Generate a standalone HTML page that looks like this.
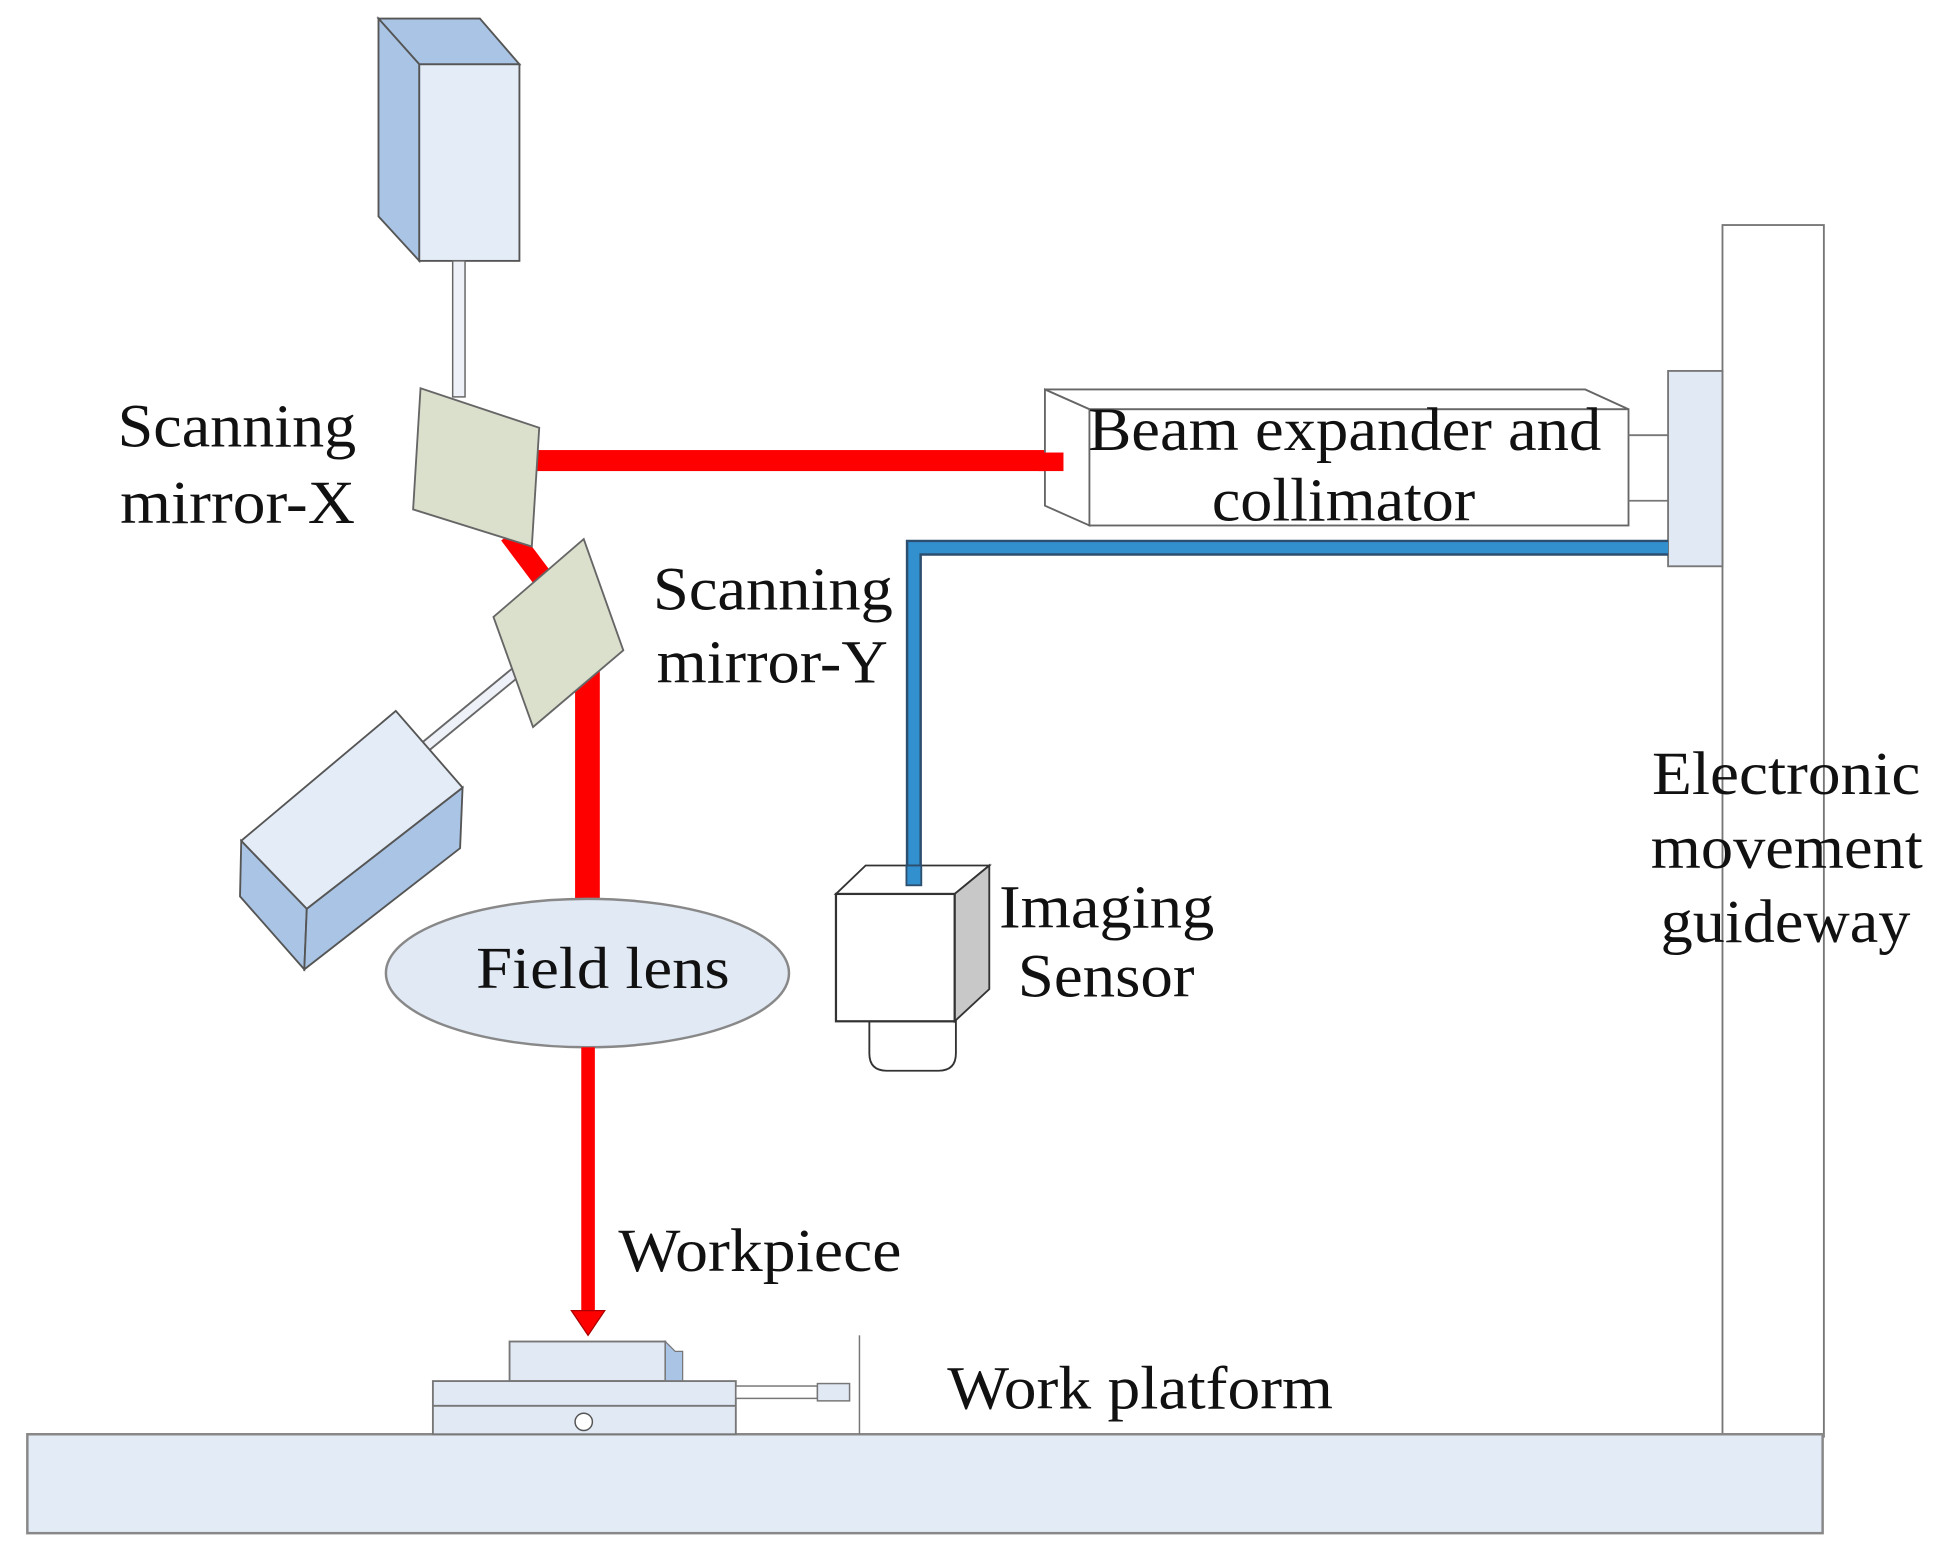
<!DOCTYPE html>
<html><head><meta charset="utf-8"><style>html,body{margin:0;padding:0;background:#fff}svg{display:block}</style></head>
<body>
<svg width="1939" height="1548" viewBox="0 0 1568 1252" xmlns="http://www.w3.org/2000/svg" font-family="'Liberation Serif', serif" fill="#111">
<!-- guideway column -->
<rect x="1393" y="182" width="82" height="980" fill="#fff" stroke="#777" stroke-width="1.5"/>
<!-- ground -->
<rect x="22" y="1160" width="1452" height="80" fill="#e3ebf6" stroke="#888" stroke-width="2"/>
<!-- top laser box -->
<polygon points="306,15 388,15 420,52 339,52" fill="#a9c4e4" stroke="#555" stroke-width="1.5"/>
<polygon points="306,15 339,52 339,211 306,175" fill="#a9c4e4" stroke="#555" stroke-width="1.5"/>
<rect x="339" y="52" width="81" height="159" fill="#e4ecf7" stroke="#555" stroke-width="1.5"/>
<rect x="366" y="211" width="10" height="110" fill="#eef2f8" stroke="#666" stroke-width="1.2"/>
<!-- red beams -->
<rect x="430" y="364" width="430" height="17" fill="#ff0000"/>
<line x1="412" y1="432" x2="442" y2="472" stroke="#ff0000" stroke-width="17"/>
<rect x="465" y="535" width="20" height="195" fill="#ff0000"/>
<!-- mirror X -->
<polygon points="340,314 436,346 430,442 334,412" fill="#dbe0cd" stroke="#666" stroke-width="1.5"/>
<!-- lower motor shaft -->
<line x1="345" y1="603" x2="418" y2="543" stroke="#666" stroke-width="10"/>
<line x1="345" y1="603" x2="418" y2="543" stroke="#eef2f8" stroke-width="7"/>
<!-- mirror Y -->
<polygon points="399,499 472,436 504,526 431,588" fill="#dbe0cd" stroke="#666" stroke-width="1.5"/>
<!-- lower motor -->
<polygon points="195,680 248,735 246,784 194,725" fill="#a9c4e4" stroke="#555" stroke-width="1.5"/>
<polygon points="248,735 374,637 372,686 246,784" fill="#a9c4e4" stroke="#555" stroke-width="1.5"/>
<polygon points="195,680 320,575 374,637 248,735" fill="#e4ecf7" stroke="#555" stroke-width="1.5"/>
<!-- field lens -->
<ellipse cx="475" cy="787" rx="163" ry="60" fill="#e1e9f5" stroke="#888" stroke-width="2"/>
<text x="385" y="799" font-size="48" textLength="205" lengthAdjust="spacingAndGlyphs">Field lens</text>
<!-- red beam down with arrow -->
<rect x="470" y="847" width="11" height="215" fill="#ff0000"/>
<polygon points="462,1060 489,1060 475.5,1080" fill="#ff0000" stroke="#a00" stroke-width="1"/>
<!-- beam expander box -->
<polygon points="845,315 1282,315 1317,331 881,331" fill="#fff" stroke="#666" stroke-width="1.5"/>
<polygon points="845,315 881,331 881,425 845,409" fill="#fff" stroke="#666" stroke-width="1.5"/>
<rect x="881" y="331" width="436" height="94" fill="#fff" stroke="#666" stroke-width="1.5"/>
<rect x="840" y="366" width="20" height="15" fill="#ff0000"/>
<line x1="1317" y1="352" x2="1349" y2="352" stroke="#777" stroke-width="1.5"/>
<line x1="1317" y1="405" x2="1349" y2="405" stroke="#777" stroke-width="1.5"/>
<text x="880" y="364" font-size="50" textLength="415" lengthAdjust="spacingAndGlyphs">Beam expander and</text>
<text x="980" y="421" font-size="50" textLength="213" lengthAdjust="spacingAndGlyphs">collimator</text>
<!-- carriage -->
<rect x="1349" y="300" width="44" height="158" fill="#e1e9f5" stroke="#777" stroke-width="1.5"/>
<!-- blue cable -->
<path d="M1349,443 L739,443 L739,716" fill="none" stroke="#2c4f70" stroke-width="13"/>
<path d="M1349,443 L739,443 L739,716" fill="none" stroke="#3390cf" stroke-width="9"/>
<!-- imaging sensor -->
<path d="M703,826 L703,852 Q703,866 717,866 L759,866 Q773,866 773,852 L773,826 Z" fill="#fff" stroke="#333" stroke-width="1.5"/>
<polygon points="676,723 700,700 800,700 772,723" fill="#fff" stroke="#333" stroke-width="1.5"/>
<polygon points="772,723 800,700 800,800 772,826" fill="#c8c8c8" stroke="#333" stroke-width="1.5"/>
<rect x="676" y="723" width="96" height="103" fill="#fff" stroke="#333" stroke-width="1.8"/>
<rect x="733" y="700" width="12" height="16" fill="#3390cf" stroke="#2c4f70" stroke-width="1.5"/>
<!-- work platform -->
<rect x="412" y="1085" width="126" height="32" fill="#e1e9f5" stroke="#777" stroke-width="1.5"/>
<polygon points="538,1085 546,1093 552,1093 552,1117 538,1117" fill="#a9c4e4" stroke="#777" stroke-width="1"/>
<rect x="350" y="1117" width="245" height="43" fill="#e1e9f5" stroke="#777" stroke-width="1.5"/>
<line x1="350" y1="1137" x2="595" y2="1137" stroke="#777" stroke-width="1.5"/>
<circle cx="472" cy="1150" r="7" fill="#fff" stroke="#555" stroke-width="1.2"/>
<rect x="595" y="1121" width="66" height="10" fill="#fff" stroke="#777" stroke-width="1.2"/>
<rect x="661" y="1119" width="26" height="14" fill="#e1e9f5" stroke="#777" stroke-width="1.2"/>
<line x1="695" y1="1080" x2="695" y2="1160" stroke="#777" stroke-width="1.2"/>
<!-- labels -->
<text x="95" y="361" font-size="50" textLength="193" lengthAdjust="spacingAndGlyphs">Scanning</text>
<text x="97" y="423" font-size="50" textLength="190" lengthAdjust="spacingAndGlyphs">mirror-X</text>
<text x="528" y="493" font-size="50" textLength="194" lengthAdjust="spacingAndGlyphs">Scanning</text>
<text x="531" y="552" font-size="50" textLength="187" lengthAdjust="spacingAndGlyphs">mirror-Y</text>
<text x="808" y="750" font-size="50" textLength="174" lengthAdjust="spacingAndGlyphs">Imaging</text>
<text x="823" y="806" font-size="50" textLength="143" lengthAdjust="spacingAndGlyphs">Sensor</text>
<text x="1336" y="642" font-size="50" textLength="217" lengthAdjust="spacingAndGlyphs">Electronic</text>
<text x="1335" y="702" font-size="50" textLength="220" lengthAdjust="spacingAndGlyphs">movement</text>
<text x="1343" y="762" font-size="50" textLength="202" lengthAdjust="spacingAndGlyphs">guideway</text>
<text x="500" y="1028" font-size="50" textLength="229" lengthAdjust="spacingAndGlyphs">Workpiece</text>
<text x="766" y="1139" font-size="50" textLength="312" lengthAdjust="spacingAndGlyphs">Work platform</text>
</svg>
</body></html>
